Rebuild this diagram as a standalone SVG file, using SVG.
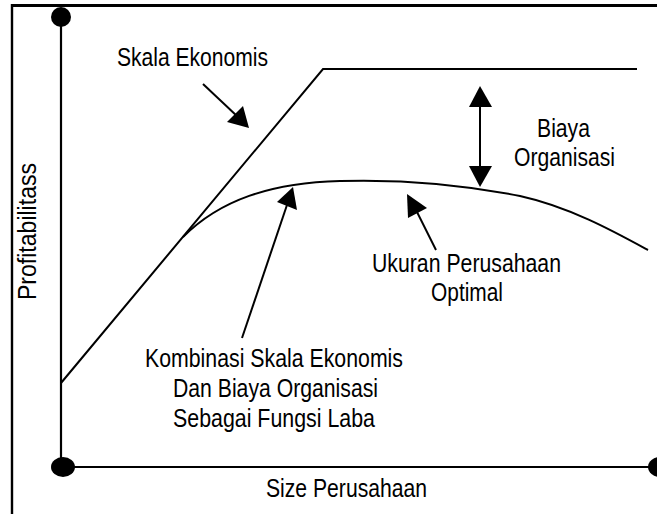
<svg xmlns="http://www.w3.org/2000/svg" width="657" height="514" viewBox="0 0 657 514">
<defs>
<style>
.ln{fill:none;stroke:#000;stroke-width:2}
.ax{fill:none;stroke:#000;stroke-width:2.2}
.fr{fill:none;stroke:#000;stroke-width:2.4}
.hd{fill:#000;stroke:none}
.t{font-family:"Liberation Sans Narrow","Liberation Sans",Arial,sans-serif;font-size:25.5px;fill:#000}
</style>
</defs>
<rect x="0" y="0" width="657" height="514" fill="#fff"/>
<g id="frame">
<rect x="11" y="4" width="646" height="3" fill="#000"/>
<line class="fr" x1="12" y1="4" x2="12" y2="514"/>
</g>
<g id="axes">
<line class="ax" x1="61" y1="17" x2="61" y2="467"/>
<line class="ax" x1="63" y1="467" x2="658" y2="467"/>
<circle cx="61" cy="17" r="10" fill="#000"/>
<ellipse cx="63" cy="467" rx="12" ry="10" fill="#000"/>
<ellipse cx="660" cy="467" rx="12" ry="10" fill="#000"/>
</g>
<g id="curves">
<path class="ln" d="M61,383 L323,69 L637,69"/>
<path class="ln" d="M183,237 C220,200 270,183 340,181 C410,179 470,186 520,196 C570,207 615,232 648,250"/>
</g>
<g id="connectors">
<line class="ln" x1="203" y1="84" x2="238" y2="117"/>
<polygon class="hd" points="249,128 227,122 243,106"/>
<line class="ln" x1="480" y1="100" x2="480" y2="172"/>
<polygon class="hd" points="480,86 469,107 492,107"/>
<polygon class="hd" points="480,187 469,166 492,166"/>
<line class="ln" x1="436" y1="250" x2="415" y2="208"/>
<polygon class="hd" points="407,194 408,218 427,208"/>
<line class="ln" x1="242" y1="338" x2="288" y2="202"/>
<polygon class="hd" points="293,187 277,202 297,210"/>
</g>
<g id="label-skala"><text class="t" x="117" y="66" textLength="151" lengthAdjust="spacingAndGlyphs">Skala Ekonomis</text></g>
<g id="label-biaya">
<text class="t" x="537" y="137" textLength="53" lengthAdjust="spacingAndGlyphs">Biaya</text>
<text class="t" x="514" y="166" textLength="101" lengthAdjust="spacingAndGlyphs">Organisasi</text>
</g>
<g id="label-ukuran">
<text class="t" x="372" y="272" textLength="189" lengthAdjust="spacingAndGlyphs">Ukuran Perusahaan</text>
<text class="t" x="431" y="301" textLength="72" lengthAdjust="spacingAndGlyphs">Optimal</text>
</g>
<g id="label-kombinasi">
<text class="t" x="145" y="367" textLength="258" lengthAdjust="spacingAndGlyphs">Kombinasi Skala Ekonomis</text>
<text class="t" x="173" y="397" textLength="205" lengthAdjust="spacingAndGlyphs">Dan Biaya Organisasi</text>
<text class="t" x="173" y="427" textLength="202" lengthAdjust="spacingAndGlyphs">Sebagai Fungsi Laba</text>
</g>
<g id="label-y"><text class="t" transform="translate(36,300) rotate(-90)" x="0" y="0" textLength="137" lengthAdjust="spacingAndGlyphs">Profitabilitass</text></g>
<g id="label-x"><text class="t" x="266" y="497" textLength="161" lengthAdjust="spacingAndGlyphs">Size Perusahaan</text></g>
</svg>
